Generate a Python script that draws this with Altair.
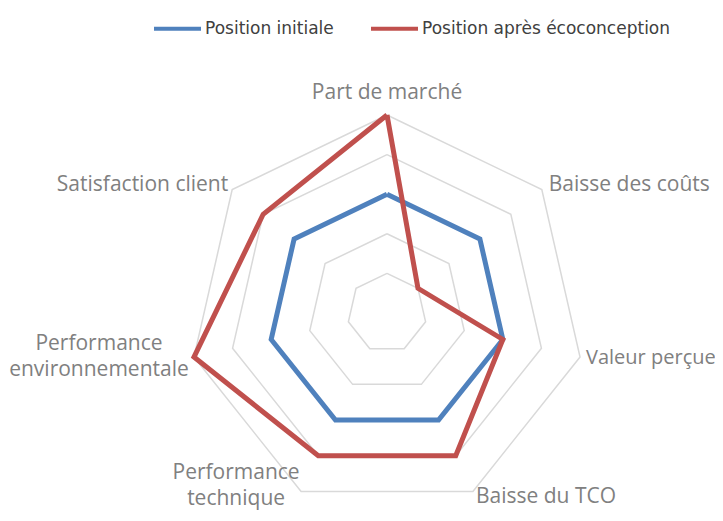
import altair as alt
import pandas as pd

categories = ["Part de marché", "Baisse des coûts", "Valeur perçue", "Baisse du TCO",
              "Performance technique", "Performance environnementale", "Satisfaction client"]
series_names = ["Position initiale", "Position après écoconception"]
initial = [3, 3, 3, 3, 3, 3, 3]
apres = [5, 1, 3, 4, 4, 5, 4]
levels = [1, 2, 3, 4, 5]
colors = ["#4f81bd", "#c0504d"]

n = len(categories)

rows = []
for name, vals in zip(series_names, [initial, apres]):
    for step in range(n + 1):
        i = step % n
        rows.append({"series": name, "step": step, "idx": i, "value": vals[i]})
series_df = pd.DataFrame(rows)

grid_rows = []
for lv in levels:
    for step in range(n + 1):
        grid_rows.append({"level": lv, "step": step, "idx": step % n, "value": lv})
grid_df = pd.DataFrame(grid_rows)

label_df = pd.DataFrame({"label": categories, "idx": list(range(n)), "value": [max(levels)] * n})

unit = 39.6
cx, cy = 379.0, 305.0
W, H = 707, 505
xs = alt.Scale(domain=[-cx / unit, (W - cx) / unit], nice=False, zero=False)
ys = alt.Scale(domain=[-(H - cy) / unit, cy / unit], nice=False, zero=False)

def polar(ch):
    return ch.transform_calculate(
        ang=f"2*PI*datum.idx/{n}"
    ).transform_calculate(
        px="datum.value*sin(datum.ang)", py="datum.value*cos(datum.ang)"
    )

grid = polar(alt.Chart(grid_df)).mark_line(color="#d9d9d9", strokeWidth=1.5).encode(
    x=alt.X("px:Q", scale=xs, axis=None),
    y=alt.Y("py:Q", scale=ys, axis=None),
    detail="level:N",
    order="step:Q",
)

lines = polar(alt.Chart(series_df)).mark_line(strokeWidth=5, strokeJoin="miter").encode(
    x=alt.X("px:Q", scale=xs, axis=None),
    y=alt.Y("py:Q", scale=ys, axis=None),
    color=alt.Color("series:N", scale=alt.Scale(domain=series_names, range=colors),
                    legend=alt.Legend(title=None, orient="none", direction="horizontal",
                                      legendX=144, legendY=-5, symbolType="stroke",
                                      symbolStrokeWidth=4, symbolSize=2209,
                                      labelFont="DejaVu Sans", labelFontSize=17,
                                      labelColor="#404040", labelOffset=2,
                                      columnPadding=29, labelLimit=400)),
    order="step:Q",
)

label_specs = [
    ("center", 0, -22, None, 21),
    ("left", 7, -5, None, 21),
    ("left", 6, 1, None, 20),
    ("left", 3, 6, None, 21),
    ("center", -65, -18, " ", 21),
    ("center", -95, -13, " ", 21),
    ("right", -4, -5, None, 21),
]

text_layers = []
for i, (al, dx, dy, lb, fs) in enumerate(label_specs):
    kw = dict(align=al, baseline="middle", dx=dx, dy=dy, font="Open Sans",
              fontSize=fs, color="#808080", lineHeight=26)
    if lb:
        kw["lineBreak"] = lb
    t = polar(alt.Chart(label_df)).transform_filter(f"datum.idx == {i}").mark_text(**kw).encode(
        x=alt.X("px:Q", scale=xs, axis=None),
        y=alt.Y("py:Q", scale=ys, axis=None),
        text="label:N",
    )
    text_layers.append(t)

chart = alt.layer(grid, lines, *text_layers).properties(
    width=W, height=H, padding=0, autosize="none"
).configure_view(stroke=None)

chart.save("out.html", embed_options={"renderer": "svg", "actions": False})
